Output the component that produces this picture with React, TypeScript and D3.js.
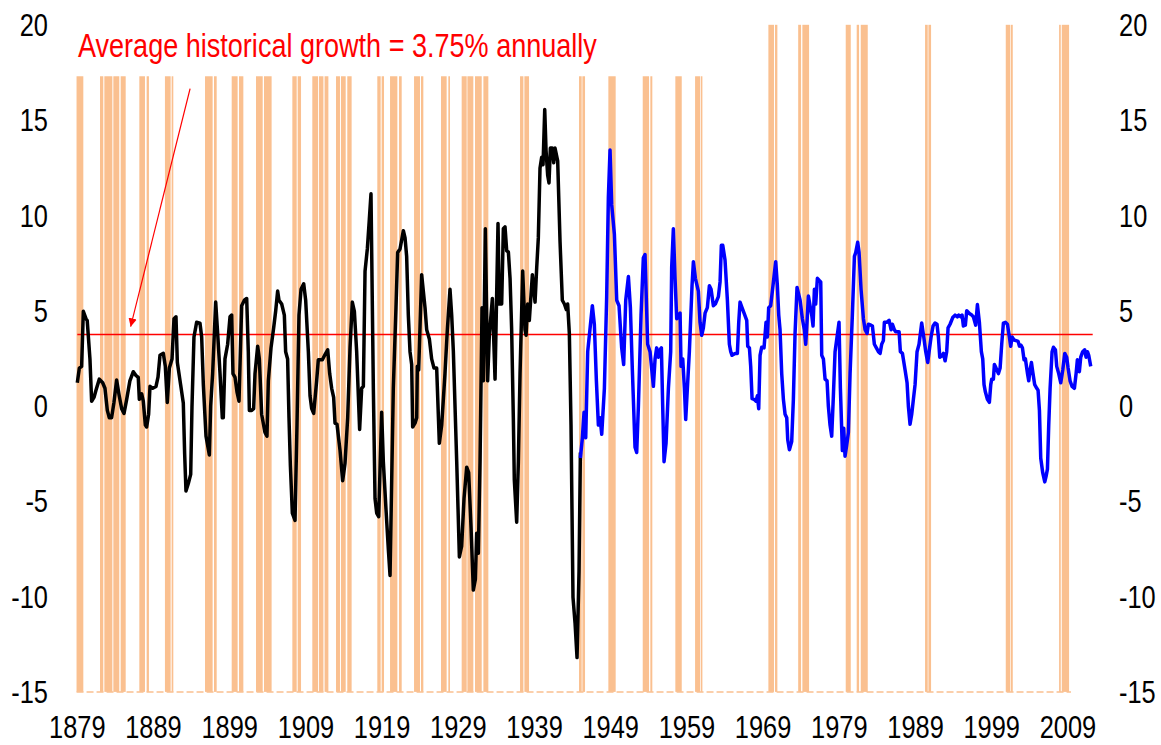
import React, { useEffect, useRef } from 'react';
import * as d3 from 'd3';

const W = 1161;
const H = 745;
// no narrow face installed: Arial-metric font squeezed horizontally
const FONT = "'Liberation Sans', Arial, sans-serif";
const SQUEEZE = 0.82;

// year-over-year growth, historical series (black)
const histYears = [
  1879.0, 1879.27, 1879.57, 1879.79, 1880.14, 1880.3, 1880.66, 1880.88, 1881.19, 1881.45, 1881.89, 1882.33, 1882.63, 1882.94,
  1883.2, 1883.5, 1883.8, 1884.16, 1884.5, 1884.82, 1885.13, 1885.48, 1885.9, 1886.35, 1886.7, 1887.0, 1887.14, 1887.45,
  1887.66, 1887.93, 1888.1, 1888.36, 1888.54, 1888.89, 1889.33, 1889.59, 1889.85, 1890.29, 1890.55, 1890.81, 1891.08, 1891.43,
  1891.69, 1891.95, 1892.13, 1892.56, 1892.91, 1893.09, 1893.26, 1893.57, 1893.88, 1894.05, 1894.31, 1894.66, 1895.1, 1895.32,
  1895.54, 1895.89, 1896.33, 1896.5, 1896.76, 1897.16, 1897.42, 1897.73, 1898.03, 1898.16, 1898.38, 1898.73, 1899.04, 1899.26,
  1899.43, 1899.7, 1899.96, 1900.22, 1900.57, 1900.92, 1901.23, 1901.44, 1901.58, 1901.88, 1902.14, 1902.32, 1902.67, 1902.89,
  1903.19, 1903.63, 1903.89, 1904.07, 1904.42, 1904.77, 1905.03, 1905.29, 1905.47, 1905.82, 1906.17, 1906.34, 1906.6, 1906.78,
  1906.96, 1907.22, 1907.57, 1907.83, 1908.09, 1908.36, 1908.71, 1908.97, 1909.32, 1909.54, 1909.76, 1910.02, 1910.41, 1910.63,
  1911.16, 1911.51, 1911.86, 1912.12, 1912.38, 1912.64, 1912.82, 1913.08, 1913.48, 1913.82, 1914.13, 1914.48, 1914.79, 1915.09,
  1915.36, 1915.66, 1915.88, 1916.05, 1916.32, 1916.54, 1916.76, 1917.06, 1917.32, 1917.54, 1917.85, 1918.07, 1918.29, 1918.55,
  1918.94, 1919.16, 1919.51, 1919.82, 1920.04, 1920.47, 1920.82, 1921.04, 1921.35, 1921.79, 1922.01, 1922.22, 1922.44, 1922.66,
  1922.88, 1923.01, 1923.32, 1923.54, 1923.62, 1923.8, 1924.19, 1924.63, 1924.85, 1925.2, 1925.5, 1925.81, 1926.16, 1926.51,
  1926.82, 1927.25, 1927.56, 1927.91, 1928.13, 1928.35, 1928.79, 1929.14, 1929.44, 1929.75, 1930.1, 1930.36, 1930.67, 1930.97,
  1931.24, 1931.41, 1931.63, 1931.85, 1932.11, 1932.29, 1932.55, 1932.85, 1933.07, 1933.47, 1933.82, 1934.21, 1934.38, 1934.69,
  1934.91, 1935.13, 1935.35, 1935.57, 1935.79, 1936.0, 1936.22, 1936.35, 1936.66, 1936.88, 1937.1, 1937.45, 1937.75, 1937.89,
  1938.1, 1938.32, 1938.54, 1938.72, 1939.07, 1939.29, 1939.5, 1939.72, 1939.94, 1940.12, 1940.34, 1940.51, 1940.73, 1940.9,
  1941.08, 1941.34, 1941.52, 1941.69, 1942.04, 1942.35, 1942.65, 1942.92, 1943.18, 1943.35, 1943.57, 1943.79, 1944.05, 1944.32,
  1944.58, 1944.84, 1945.02,
];
const histGrowth = [
  1.22, 1.99, 2.08, 4.97, 4.58, 4.49, 2.47, 0.25, 0.45, 0.83, 1.41, 1.22, 0.93, -0.23,
  -0.62, -0.62, 0.16, 1.36, 0.54, -0.14, -0.39, 0.35, 1.32, 1.8, 1.6, 1.5, 0.35, 0.64,
  0.25, -1.0, -1.1, -0.43, 1.03, 0.93, 1.03, 1.51, 2.66, 2.76, 2.08, 0.19, 1.99, 2.47,
  4.58, 4.68, 2.28, 1.12, 0.16, -2.53, -4.46, -4.07, -3.59, -0.04, 3.62, 4.39, 4.35, 3.62,
  1.12, -1.58, -2.57, 0.0, 1.7, 5.45, 3.81, 1.7, -0.62, -0.62, 2.47, 3.24, 4.68, 4.77,
  1.7, 1.5, 0.73, 0.25, 5.26, 5.55, 5.64, 2.85, -0.23, -0.23, -0.14, 1.7, 3.14, 2.47,
  -0.43, -1.39, -1.58, 1.32, 3.05, 4.1, 4.97, 6.03, 5.55, 5.35, 4.77, 2.85, 2.47, -0.62,
  -3.11, -5.62, -6.0, -1.0, 4.77, 6.12, 6.41, 5.55, 2.85, 0.54, -0.14, -0.39, 1.32, 2.43,
  2.43, 2.7, 2.95, 1.7, 0.93, 0.45, -0.9, -0.96, -2.34, -3.92, -3.02, -0.62, 3.05, 5.45,
  4.97, 2.85, 0.54, -1.23, 0.93, 1.03, 7.08, 8.24, 9.78, 11.13, 0.93, -4.85, -5.62, -5.81,
  -0.33, -2.92, -5.42, -7.54, -8.89, 0.93, 5.16, 8.05, 8.24, 9.2, 8.82, 7.85, 4.77, 2.85,
  2.18, -1.1, -0.9, -0.62, 2.08, 1.89, 6.89, 5.16, 4.0, 3.52, 2.47, 1.99, 1.99, -1.96,
  -1.0, 1.7, 4.0, 6.12, 4.77, 2.85, -2.92, -7.92, -7.35, -4.85, -3.21, -3.5, -6.39, -9.66,
  -9.08, -6.67, -7.73, -2.92, 5.16, 1.32, 9.3, 1.32, 3.71, 5.64, 1.41, 9.58, 5.35, 5.35,
  9.3, 9.4, 8.14, 8.08, 6.7, 4.0, -0.62, -3.88, -6.1, -2.92, 1.7, 7.08, 4.0, 3.71,
  5.35, 4.49, 5.83, 6.89, 5.45, 7.28, 8.82, 12.47, 13.05, 12.66, 15.55, 13.43, 12.09, 11.7,
  13.53, 13.53, 12.76, 13.53, 12.86, 8.62, 5.55, 5.35, 5.06, 5.35, 3.81, -1.0, -10.04, -11.39,
  -13.2, -8.69, -2.44,
];

// modern series (blue)
const postYears = [
  1945.02, 1945.28, 1945.5, 1945.72, 1945.98, 1946.59, 1946.85, 1947.12, 1947.38, 1947.6, 1947.82, 1948.17, 1948.47, 1948.69,
  1948.91, 1949.13, 1949.48, 1949.79, 1950.09, 1950.44, 1950.7, 1950.97, 1951.32, 1951.58, 1951.84, 1952.19, 1952.41, 1952.63,
  1952.98, 1953.28, 1953.5, 1953.85, 1954.16, 1954.6, 1954.82, 1955.03, 1955.25, 1955.47, 1955.65, 1955.82, 1956.0, 1956.26,
  1956.57, 1956.87, 1957.0, 1957.22, 1957.44, 1957.66, 1957.88, 1958.1, 1958.23, 1958.45, 1958.67, 1958.84, 1959.06, 1959.32,
  1959.67, 1959.85, 1960.11, 1960.5, 1960.72, 1960.94, 1961.16, 1961.38, 1961.68, 1961.95, 1962.17, 1962.47, 1962.73, 1963.13,
  1963.35, 1963.52, 1963.7, 1964.0, 1964.31, 1964.57, 1964.75, 1964.92, 1965.32, 1965.62, 1965.8, 1965.97, 1966.23, 1966.5,
  1966.85, 1966.98, 1967.2, 1967.37, 1967.55, 1967.81, 1968.07, 1968.25, 1968.42, 1968.6, 1968.81, 1969.12, 1969.38, 1969.56,
  1969.73, 1969.99, 1970.35, 1970.65, 1970.87, 1971.05, 1971.22, 1971.44, 1971.66, 1971.88, 1972.1, 1972.23, 1972.45, 1972.75,
  1972.97, 1973.19, 1973.45, 1973.85, 1974.15, 1974.41, 1974.59, 1974.76, 1974.94, 1975.2, 1975.38, 1975.55, 1975.73, 1975.9,
  1976.12, 1976.34, 1976.56, 1976.69, 1976.91, 1977.13, 1977.39, 1977.56, 1977.78, 1978.0, 1978.22, 1978.44, 1978.7, 1978.96,
  1979.14, 1979.4, 1979.58, 1979.75, 1979.97, 1980.19, 1980.41, 1980.71, 1980.98, 1981.15, 1981.41, 1981.59, 1981.85, 1982.16,
  1982.38, 1982.64, 1982.81, 1983.16, 1983.34, 1983.6, 1983.86, 1984.13, 1984.35, 1984.56, 1984.78, 1984.91, 1985.22, 1985.53,
  1985.79, 1985.96, 1986.23, 1986.4, 1986.84, 1987.01, 1987.28, 1987.63, 1987.89, 1988.06, 1988.28, 1988.5, 1988.72, 1988.94,
  1989.2, 1989.46, 1989.81, 1990.08, 1990.34, 1990.6, 1990.78, 1991.04, 1991.3, 1991.56, 1991.82, 1992.0, 1992.18, 1992.44,
  1992.66, 1992.88, 1993.09, 1993.27, 1993.53, 1993.88, 1994.19, 1994.49, 1994.67, 1994.93, 1995.11, 1995.28, 1995.54, 1995.72,
  1996.07, 1996.38, 1996.59, 1996.9, 1997.12, 1997.38, 1997.64, 1997.82, 1997.99, 1998.17, 1998.43, 1998.69, 1998.87, 1999.0,
  1999.22, 1999.35, 1999.57, 1999.88, 2000.1, 2000.31, 2000.53, 2000.79, 2001.06, 2001.28, 2001.49, 2001.67, 2001.93, 2002.2,
  2002.46, 2002.63, 2002.81, 2003.03, 2003.24, 2003.42, 2003.68, 2003.86, 2004.03, 2004.21, 2004.38, 2004.64, 2004.91, 2005.08,
  2005.26, 2005.43, 2005.69, 2005.96, 2006.13, 2006.31, 2006.48, 2006.66, 2006.92, 2007.1, 2007.36, 2007.53, 2007.79, 2008.06,
  2008.32, 2008.58, 2008.84, 2009.02, 2009.28, 2009.54, 2009.85, 2010.07, 2010.24, 2010.5, 2010.68, 2010.94, 2011.2, 2011.38,
  2011.56, 2011.73, 2011.99,
];
const postGrowth = [
  -2.73, -1.67, -0.33, -1.67, 2.85, 5.26, 4.29, 1.32, -1.0, -0.62, -1.48, 0.93, 5.74, 10.93,
  13.43, 10.55, 9.01, 5.55, 5.26, 3.04, 2.18, 5.55, 6.79, 5.16, 1.89, -2.16, -2.44, -0.04,
  4.77, 7.76, 7.95, 3.24, 2.85, 1.03, 2.47, 3.05, 2.56, 2.95, 3.05, 0.0, -2.92, -1.96,
  0.93, 2.85, 7.28, 9.3, 6.7, 4.58, 4.77, 4.87, 2.08, 2.47, 0.93, -0.71, 0.93, 2.85,
  6.31, 7.57, 6.7, 6.03, 4.39, 3.71, 4.1, 4.87, 5.16, 6.31, 6.12, 5.26, 5.35, 5.74,
  6.51, 8.43, 8.43, 7.66, 5.55, 3.24, 2.85, 2.66, 2.76, 2.76, 4.39, 5.45, 5.16, 4.87,
  4.49, 3.14, 3.05, 2.08, 0.39, 0.35, 0.25, 0.54, -0.14, 2.66, 3.08, 3.05, 4.39, 3.62,
  5.16, 5.26, 6.51, 7.57, 6.31, 4.77, 4.0, 1.7, 0.35, -0.43, -0.62, -1.77, -2.3, -1.87,
  0.35, 3.81, 6.22, 5.55, 4.58, 4.0, 3.24, 4.39, 5.77, 5.16, 4.77, 4.2, 6.12, 5.35,
  6.7, 6.6, 6.51, 2.66, 2.47, 1.41, 1.32, 0.0, -1.0, -1.58, 0.54, 2.85, 3.62, 4.39,
  0.93, -2.34, -1.17, -2.63, -2.05, -1.39, 1.7, 4.77, 7.85, 8.05, 8.59, 8.05, 6.12, 4.58,
  4.0, 3.81, 4.29, 4.24, 4.2, 3.24, 3.05, 2.85, 2.76, 3.24, 3.43, 4.39, 4.39, 4.49,
  4.0, 4.29, 4.0, 3.9, 3.9, 2.85, 2.76, 1.89, 1.22, 0.0, -0.96, -0.43, 0.35, 1.12,
  2.85, 3.24, 4.35, 3.62, 2.85, 2.28, 2.85, 3.62, 4.2, 4.35, 4.29, 3.62, 2.56, 2.62,
  2.76, 2.37, 2.85, 4.1, 4.29, 4.64, 4.77, 4.68, 4.77, 4.68, 4.77, 4.2, 4.24, 5.0,
  4.85, 4.77, 4.68, 4.24, 5.32, 4.39, 2.85, 2.47, 1.12, 0.73, 0.35, 0.19, 1.12, 1.41,
  1.41, 2.18, 1.99, 1.7, 1.99, 3.24, 4.35, 4.39, 4.29, 3.71, 3.14, 3.62, 3.46, 3.43,
  3.39, 3.14, 3.2, 3.05, 2.43, 2.47, 1.74, 1.32, 1.89, 2.28, 1.8, 1.12, 0.93, 0.83,
  -0.23, -2.73, -3.5, -3.98, -3.69, -3.31, -1.0, 0.93, 2.85, 3.08, 2.95, 2.08, 1.7, 1.22,
  1.89, 2.76, 2.56, 1.99, 1.32, 1.03, 0.93, 1.7, 2.43, 1.8, 2.56, 2.85, 2.95, 2.56,
  2.85, 2.66, 2.08,
];

const AVG_GROWTH = 3.75;
const SERIES_START = 1879;
const SERIES_END = 2012.25;

const yTicks = [20, 15, 10, 5, 0, -5, -10, -15];
const xTickYears = [1879, 1889, 1899, 1909, 1919, 1929, 1939, 1949, 1959, 1969, 1979, 1989, 1999, 2009];

// recession shading, [start, end]; older bars stop short of the top
const recessionsEarly = [
  [1878.9, 1879.79], [1881.98, 1882.41], [1882.55, 1883.6], [1883.73, 1884.51], [1884.69, 1885.35],
  [1887.14, 1887.88], [1888.1, 1888.4], [1890.5, 1891.25], [1891.38, 1891.6], [1895.76, 1896.76],
  [1896.94, 1897.29], [1899.26, 1900.04], [1900.22, 1900.79], [1902.45, 1903.33], [1903.5, 1904.5],
  [1907.22, 1907.79], [1907.92, 1908.36], [1909.84, 1910.6], [1910.72, 1911.3], [1911.45, 1911.95],
  [1912.95, 1913.47], [1913.6, 1914.22], [1914.43, 1915.0], [1918.37, 1918.81], [1918.94, 1919.25],
  [1920.04, 1921.0], [1921.22, 1921.57], [1923.19, 1923.97], [1924.1, 1924.41], [1926.73, 1927.47],
  [1927.69, 1927.91], [1929.44, 1930.1], [1930.19, 1930.97], [1931.19, 1932.07], [1932.29, 1932.94],
  [1937.1, 1937.54], [1937.67, 1938.28], [1944.84, 1945.19], [1945.28, 1945.63], [1948.69, 1949.65],
  [1953.2, 1954.03], [1954.2, 1954.46], [1957.48, 1958.32], [1960.07, 1960.72], [1960.81, 1961.03],
];
const recessionsLate = [
  [1969.69, 1970.43], [1970.56, 1970.87], [1973.6, 1973.98], [1974.15, 1975.03], [1979.84, 1980.5],
  [1981.28, 1981.59], [1981.81, 1982.73], [1990.25, 1990.6], [1990.69, 1991.04], [2000.84, 2001.41],
  [2001.49, 2001.76], [2007.84, 2008.06], [2008.19, 2009.15],
];
const EARLY_TOP = 17.3;
const LATE_TOP = 20;
const RECESSION_LAST = 2009.4;

const noteText = 'Average historical growth = 3.75% annually';
const noteArrowFrom = [1893.8, 16.65];
const noteArrowTo = [1886.0, 4.16];

export default function App() {
  const svgRef = useRef(null);

  useEffect(() => {
    const svg = d3.select(svgRef.current);
    svg.selectAll('*').remove();

    const x = d3.scaleLinear().domain([SERIES_START, SERIES_END]).range([77.3, 1092.7]);
    const y = d3.scaleLinear().domain([-15, 20]).range([691.9, 24.8]);

    // narrow text: place with translate, squeeze with scale
    const narrow = (sel, px, py) => sel.attr('transform', (d, i) =>
      `translate(${px(d, i)},${py(d, i)}) scale(${SQUEEZE},1)`);

    // recession bars
    const bars = svg.append('g');
    const drawBars = (list, top) => {
      bars.selectAll(null).data(list).enter().append('rect')
        .attr('x', d => x(d[0]))
        .attr('width', d => x(d[1]) - x(d[0]))
        .attr('y', y(top))
        .attr('height', y(-15) - y(top))
        .attr('fill', '#FAC090');
    };
    drawBars(recessionsEarly, EARLY_TOP);
    drawBars(recessionsLate, LATE_TOP);

    svg.append('line')
      .attr('x1', x(1878.9)).attr('x2', x(RECESSION_LAST))
      .attr('y1', y(-15)).attr('y2', y(-15))
      .attr('stroke', '#FAC090').attr('stroke-width', 1.5).attr('stroke-dasharray', '7,3');

    // average line
    svg.append('line')
      .attr('x1', x(SERIES_START)).attr('x2', x(SERIES_END))
      .attr('y1', y(AVG_GROWTH)).attr('y2', y(AVG_GROWTH))
      .attr('stroke', '#FF0000').attr('stroke-width', 1.5);

    const line = d3.line().x(d => x(d[0])).y(d => y(d[1]));
    const hist = histYears.map((t, i) => [t, histGrowth[i]]);
    const post = postYears.map((t, i) => [t, postGrowth[i]]);

    svg.append('path').datum(hist).attr('d', line)
      .attr('fill', 'none').attr('stroke', '#000').attr('stroke-width', 3.5).attr('stroke-linejoin', 'round');
    svg.append('path').datum(post).attr('d', line)
      .attr('fill', 'none').attr('stroke', '#0000FF').attr('stroke-width', 3.5).attr('stroke-linejoin', 'round');

    // y labels, both sides
    const yl = svg.append('g').style('font-family', FONT).style('font-size', '31px').attr('fill', '#000');
    narrow(yl.selectAll('.l').data(yTicks).enter().append('text')
      .attr('dy', '0.36em').attr('text-anchor', 'end').text(d => d), () => 48, d => y(d));
    narrow(yl.selectAll('.r').data(yTicks).enter().append('text')
      .attr('dy', '0.36em').attr('text-anchor', 'start').text(d => d), () => 1119, d => y(d));

    // x labels
    narrow(svg.append('g').style('font-family', FONT).style('font-size', '31px')
      .selectAll('text').data(xTickYears).enter().append('text')
      .attr('text-anchor', 'middle').text(d => d), d => x(d), () => 738);

    // annotation
    svg.append('defs').append('marker')
      .attr('id', 'arr').attr('viewBox', '0 0 10 10').attr('refX', 10).attr('refY', 5)
      .attr('markerWidth', 7).attr('markerHeight', 7).attr('orient', 'auto')
      .append('path').attr('d', 'M0,0 L10,5 L0,10 Z').attr('fill', '#FF0000');
    svg.append('line')
      .attr('x1', x(noteArrowFrom[0])).attr('y1', y(noteArrowFrom[1]))
      .attr('x2', x(noteArrowTo[0])).attr('y2', y(noteArrowTo[1]))
      .attr('stroke', '#FF0000').attr('stroke-width', 1.2).attr('marker-end', 'url(#arr)');
    narrow(svg.append('text').datum(noteText)
      .style('font-family', FONT).style('font-size', '33px').attr('fill', '#FF0000')
      .text(d => d), () => 78, () => 57);
  }, []);

  return (
    <svg ref={svgRef} width={W} height={H}
      style={{ position: 'absolute', left: 0, top: 0, background: '#fff' }} />
  );
}
